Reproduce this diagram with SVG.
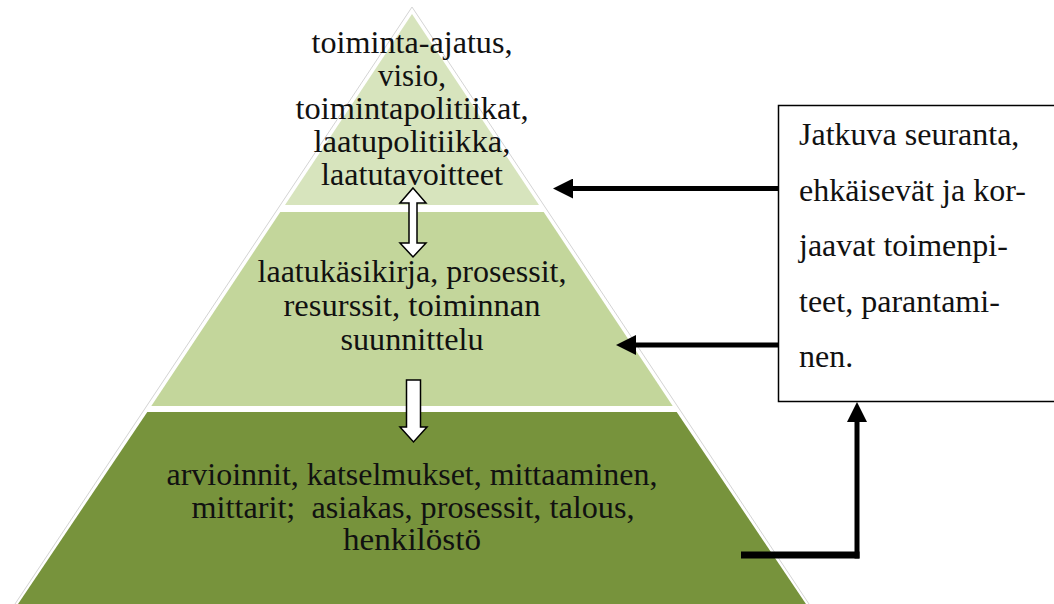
<svg xmlns="http://www.w3.org/2000/svg" width="1054" height="604" viewBox="0 0 1054 604">
<style>
.pt{font-size:31px;fill:#111;text-anchor:middle}
.bt{font-size:32px;fill:#111}
.blk{fill:#fff;stroke:#000;stroke-width:1.5;stroke-linejoin:miter}
.cn{stroke:#000;fill:none}
</style>
<defs>
<marker id="ah" viewBox="0 0 20 20" refX="0" refY="10" markerWidth="20" markerHeight="20" markerUnits="userSpaceOnUse" orient="auto">
<path d="M0,0 L20,10 L0,20 z" fill="#000"/>
</marker>
</defs>
<rect width="1054" height="604" fill="#fff"/>
<g id="pyramid-outline">
<polygon points="412,7 811,607 13,607" fill="none" stroke="#d4d4d4" stroke-width="1"/>
</g>
<g font-family="Liberation Serif, Tinos, Times New Roman, serif">
<g id="tier-top">
<polygon points="412,14 539,205 285,205" fill="#D7E4BD"/>
<text class="pt" x="412" y="53" textLength="201" lengthAdjust="spacingAndGlyphs">toiminta-ajatus,</text>
<text class="pt" x="412" y="86">visio,</text>
<text class="pt" x="412" y="119" textLength="233" lengthAdjust="spacingAndGlyphs">toimintapolitiikat,</text>
<text class="pt" x="412" y="152" textLength="197" lengthAdjust="spacingAndGlyphs">laatupolitiikka,</text>
<text class="pt" x="412" y="185" textLength="182" lengthAdjust="spacingAndGlyphs">laatutavoitteet</text>
</g>
<g id="tier-middle">
<polygon points="280.3,212 543.7,212 672.7,406 151.3,406" fill="#C3D69B"/>
<text class="pt" x="412" y="282" textLength="309" lengthAdjust="spacingAndGlyphs">laatukäsikirja, prosessit,</text>
<text class="pt" x="412" y="316" textLength="257" lengthAdjust="spacingAndGlyphs">resurssit, toiminnan</text>
<text class="pt" x="412" y="350" textLength="143" lengthAdjust="spacingAndGlyphs">suunnittelu</text>
</g>
<g id="tier-bottom">
<polygon points="147.3,412 676.7,412 808,607 16,607" fill="#77933C"/>
<text class="pt" x="412" y="485" textLength="491" lengthAdjust="spacingAndGlyphs">arvioinnit, katselmukset, mittaaminen,</text>
<text class="pt" x="413" y="518" textLength="443" lengthAdjust="spacingAndGlyphs" xml:space="preserve">mittarit;  asiakas, prosessit, talous,</text>
<text class="pt" x="412" y="550" textLength="138" lengthAdjust="spacingAndGlyphs">henkilöstö</text>
</g>
<g id="box">
<rect x="778.5" y="105.5" width="290" height="296" fill="#fff" stroke="#000" stroke-width="1.5"/>
<text class="bt" x="799" y="145">Jatkuva seuranta,</text>
<text class="bt" x="799" y="200.5">ehkäisevät ja kor-</text>
<text class="bt" x="799" y="256">jaavat toimenpi-</text>
<text class="bt" x="799" y="311.5">teet, parantami-</text>
<text class="bt" x="799" y="367">nen.</text>
</g>
</g>
<g id="connectors">
<polygon class="blk" points="413,188 426,203 417,203 417,243 426,243 413,257 400,243 409,243 409,203 400,203"/>
<polygon class="blk" points="406.5,380 420.5,380 420.5,427 427,427 413.5,442 400,427 406.5,427"/>
<line class="cn" x1="778" y1="188.5" x2="573" y2="188.5" stroke-width="5" marker-end="url(#ah)"/>
<line class="cn" x1="778" y1="345" x2="636" y2="345" stroke-width="5" marker-end="url(#ah)"/>
<line class="cn" x1="741" y1="555" x2="859.5" y2="555" stroke-width="7"/>
<line class="cn" x1="857" y1="558.5" x2="857" y2="422" stroke-width="5" marker-end="url(#ah)"/>
</g>
</svg>
